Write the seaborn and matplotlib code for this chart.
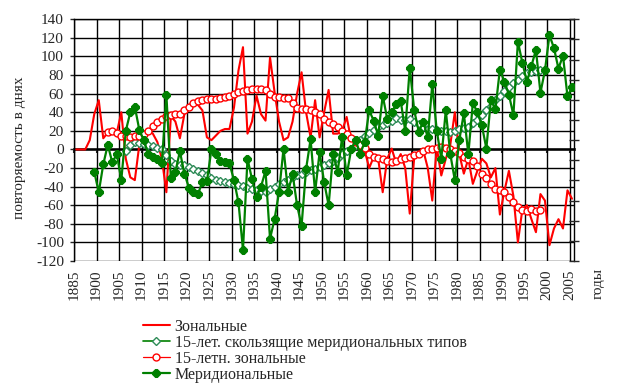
import matplotlib
matplotlib.use("Agg")
import matplotlib.pyplot as plt
import seaborn as sns

# годы и значения (повторяемость в днях)
years_zon = list(range(1895, 2006))
zonal = [0, 0, 0, 10, 38, 53, 12, 18, 22, 18,
         40, -10, -30, -33, 5, 19, 20, 17, 8, -10,
         -46, 36, 30, 12, 38, 45, 52, 48, 42, 13,
         10, 15, 20, 22, 22, 45, 85, 110, 17, 30,
         58, 38, 31, 99, 62, 30, 10, 13, 30, 60,
         83, 40, 13, 53, 13, 40, 64, 17, 17, 20,
         35, 10, 12, 5, -1, -20, -8, -10, -46, -10,
         1, -15, -5, -20, -69, -8, -5, -1, -20, -55,
         2, -28, -10, 5, 40, -5, -26, -10, -37, -23,
         -10, -15, -30, -20, -70, -45, -23, -50, -100, -64,
         -60, -75, -89, -48, -55, -103, -85, -75, -85, -44,
         -53]

years_mer = list(range(1899, 2006))
meridional = [-24, -46, -16, 5, -14, -5, -33, 20, 40, 46,
              21, 10, -5, -8, -10, -15, 59, -31, -24, -2,
              -26, -41, -46, -48, -35, -34, 0, -5, -12, -14,
              -15, -33, -57, -108, -10, -32, -51, -40, -23, -96,
              -75, -46, 1, -46, -26, -60, -82, -21, 11, -46,
              -3, -35, -60, -5, -24, 13, -28, 0, 10, -5,
              8, 42, 31, 15, 58, 33, 40, 49, 52, 20,
              88, 42, 19, 30, 13, 70, 20, -10, 42, -5,
              -33, 10, 39, -5, 50, 40, 26, 1, 53, 43,
              86, 73, 59, 37, 116, 93, 73, 90, 107, 61,
              85, 123, 109, 87, 101, 57, 67]

years_zon15 = list(range(1902, 1999))
zonal_15 = [19, 20, 18, 15, 14, 13, 14, 15, 17, 20,
            25, 30, 33, 36, 37, 38, 38, 42, 46, 50,
            52, 53, 54, 54, 54, 55, 56, 58, 60, 62,
            63, 64, 65, 65, 65, 64, 60, 56, 56, 55,
            55, 50, 45, 44, 43, 42, 40, 38, 33, 29,
            27, 24, 20, 17, 12, 8, 5, 2, -5, -8,
            -9, -10, -12, -14, -12, -10, -9, -8, -6, -5,
            -2, 0, 1, 2, 3, 2, 0, -2, -4, -8,
            -10, -12, -18, -26, -31, -37, -42, -44, -46, -51,
            -57, -62, -65, -66, -64, -66, -65]

years_mer15 = list(range(1906, 1999))
merid_15 = [-2, 5, 8, 7, 6, 5, 4, 2, 0, -6,
            -12, -16, -17, -17, -19, -21, -23, -25, -28, -31,
            -33, -34, -35, -36, -37, -38, -39, -41, -42, -44,
            -45, -46, -43, -40, -37, -35, -33, -30, -28, -26,
            -24, -22, -21, -19, -17, -15, -12, -9, -5, -2,
            1, 5, 10, 14, 18, 21, 24, 26, 28, 31,
            34, 32, 32, 33, 30, 27, 24, 22, 22, 21,
            20, 20, 19, 20, 22, 23, 24, 28, 32, 37,
            42, 47, 53, 58, 63, 67, 71, 75, 79, 82,
            83, 84, 85]

x_ticks = [1894.5 + 5 * k for k in range(23)]
x_labels = ["1885"] + [str(y) for y in range(1900, 2006, 5)]
y_ticks = list(range(-120, 141, 20))

sns.set_style("white")
plt.rcParams["font.family"] = ["Liberation Serif", "DejaVu Serif"]
plt.rcParams["axes.unicode_minus"] = False
plt.rcParams["font.size"] = 11

fig = plt.figure(figsize=(6.18, 3.83), dpi=100)
ax = fig.add_axes([0.1197, 0.3185, 0.8095, 0.6311])

sns.lineplot(x=years_zon, y=zonal, ax=ax, color="#ff0000", lw=1.5,
             label="Зональные", zorder=3)
sns.lineplot(x=years_mer15, y=merid_15, ax=ax, color="#008000", lw=1.2,
             marker="D", ms=4.5, mfc="white", mec="#2e8b57", mew=1,
             label="15-лет. скользящие меридиональных типов", zorder=4)
sns.lineplot(x=years_zon15, y=zonal_15, ax=ax, color="#ff0000", lw=0.9,
             marker="o", ms=5, mfc="white", mec="#ff0000", mew=1,
             label="15-летн. зональные", zorder=4)
sns.lineplot(x=years_mer, y=meridional, ax=ax, color="#008000", lw=1.6,
             marker="8", ms=5.5, mfc="#008000", mec="#008000",
             label="Меридиональные", zorder=5)

ax.set_xlim(1894.5, 2005.5)
ax.set_ylim(-120, 140)
ax.set_xticks(x_ticks)
ax.set_xticklabels(x_labels, rotation=90)
ax.set_yticks(y_ticks)
ax.grid(True, color="black", lw=1)
ax.tick_params(axis="x", length=0, pad=6)
ax.tick_params(axis="y", direction="out", length=3.2, width=1, pad=4, left=True)
for s in ax.spines.values():
    s.set_color("black")
    s.set_linewidth(1)
ax.spines["bottom"].set_visible(False)
ax.set_xlabel("")
ax.set_ylabel("")

# ось X по нулю
sec = ax.secondary_xaxis(120 / 260)
sec.set_xticks(x_ticks)
sec.set_xticklabels([])
sec.tick_params(direction="out", length=3, width=1.5)
sec.spines["bottom"].set_linewidth(2)

# вторая ось справа (без подписей)
ax2 = ax.twinx()
ax2.set_ylim(0, 12)
ax2.set_yticks(range(13))
ax2.set_yticklabels([])
ax2.tick_params(axis="y", direction="inout", length=6.5, width=1, right=True)
ax2.grid(False)
for s in ax2.spines.values():
    s.set_visible(False)

handles, labels = ax.get_legend_handles_labels()
ax.get_legend().remove()
fig.legend(handles, labels, loc="upper left", bbox_to_anchor=(0.231, 0.167),
           frameon=False, borderpad=0, borderaxespad=0, handlelength=1.7,
           handletextpad=0.3, labelspacing=0.0, fontsize=11.5)

fig.text(20 / 618, 1 - 148 / 383, "повторяемость в днях", rotation=90,
         ha="center", va="center", fontsize=11)
fig.text(598 / 618, 1 - 268 / 383, "годы", rotation=90,
         ha="center", va="top", fontsize=11)

fig.savefig("out.png", dpi=100)
